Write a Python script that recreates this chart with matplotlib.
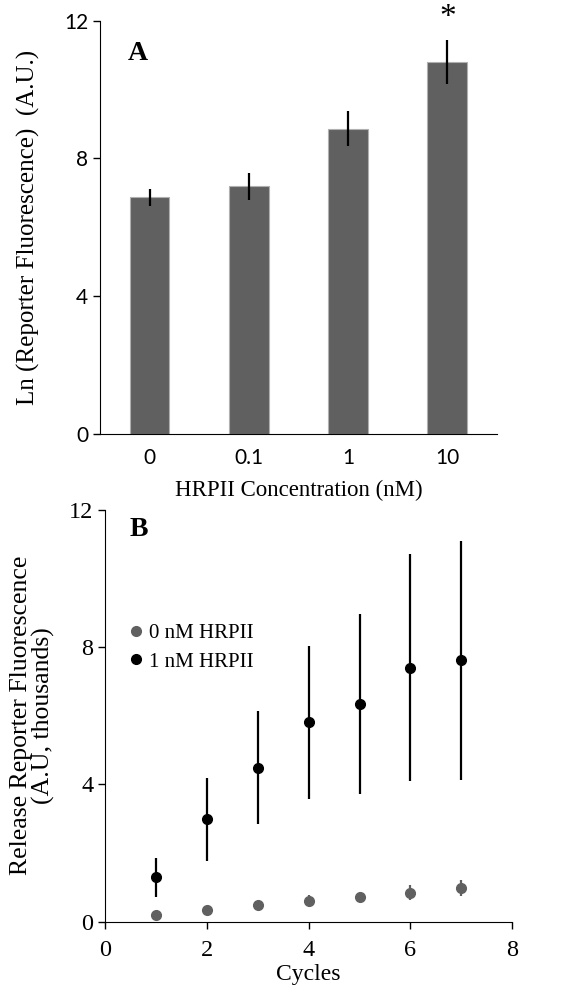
import numpy as np
import matplotlib.pyplot as plt
from matplotlib.lines import Line2D

# Panel A data
conc_labels = ['0', '0.1', '1', '10']
ln_fluor = [6.87, 7.19, 8.86, 10.80]
ln_err = [0.24, 0.39, 0.51, 0.63]

# Panel B data
cycles = [1, 2, 3, 4, 5, 6, 7]
release_0nm = [0.20, 0.33, 0.48, 0.61, 0.73, 0.85, 0.99]
release_0nm_err = [0.05, 0.06, 0.08, 0.16, 0.15, 0.22, 0.24]
release_1nm = [1.29, 2.98, 4.49, 5.81, 6.34, 7.40, 7.61]
release_1nm_err = [0.58, 1.20, 1.64, 2.23, 2.62, 3.31, 3.48]

serif = 'Liberation Serif'
sans = 'Lato'
grey = '#606060'

fig = plt.figure(figsize=(5.72, 9.94), dpi=100)

# ---- Panel A ----
axA = fig.add_axes([0.1748, 0.5634, 0.694, 0.4158])
xpos = np.arange(len(conc_labels))
axA.bar(xpos, ln_fluor, width=0.4, color=grey, edgecolor='#b0b0b0', linewidth=0.8)
axA.errorbar(xpos, ln_fluor, yerr=ln_err, fmt='none', ecolor='black', elinewidth=1.6, capsize=0)
axA.set_xlim(-0.5, 3.5)
axA.set_ylim(0, 12)
axA.set_yticks([0, 4, 8, 12])
axA.set_xticks(xpos)
axA.set_xticklabels(conc_labels)
for s in ['top', 'right']:
    axA.spines[s].set_visible(False)
axA.tick_params(axis='x', length=0, pad=10)
axA.tick_params(axis='y', direction='out', length=5, width=1)
for lab in axA.get_xticklabels() + axA.get_yticklabels():
    lab.set_fontfamily(sans)
    lab.set_fontsize(15)
axA.set_ylabel('Ln (Reporter Fluorescence)  (A.U.)', fontfamily=serif, fontsize=18, labelpad=17)
axA.set_xlabel('HRPII Concentration (nM)', fontfamily=serif, fontsize=16.5, labelpad=9)
axA.text(0.07, 0.92, 'A', transform=axA.transAxes, fontfamily=serif, fontsize=20,
         fontweight='bold', ha='left', va='center')
axA.text(3, 11.85, '*', fontfamily=serif, fontsize=24, ha='center', va='baseline', clip_on=False)

# ---- Panel B ----
axB = fig.add_axes([0.184, 0.0727, 0.7115, 0.4145])
axB.errorbar(cycles, release_0nm, yerr=release_0nm_err, fmt='o', color=grey,
             ecolor=grey, elinewidth=1.6, capsize=0, markersize=7)
axB.errorbar(cycles, release_1nm, yerr=release_1nm_err, fmt='o', color='black',
             ecolor='black', elinewidth=1.6, capsize=0, markersize=7)
axB.set_xlim(0, 8)
axB.set_ylim(0, 12)
axB.set_xticks([0, 2, 4, 6, 8])
axB.set_yticks([0, 4, 8, 12])
for s in ['top', 'right']:
    axB.spines[s].set_visible(False)
axB.tick_params(direction='out', length=5, width=1)
axB.tick_params(axis='x', pad=8)
for lab in axB.get_xticklabels() + axB.get_yticklabels():
    lab.set_fontfamily(serif)
    lab.set_fontsize(17.5)
axB.set_ylabel('Release Reporter Fluorescence\n(A.U, thousands)', fontfamily=serif,
               fontsize=18.5, labelpad=10, linespacing=1.0)
axB.set_xlabel('Cycles', fontfamily=serif, fontsize=17, labelpad=2)
axB.text(0.06, 0.951, 'B', transform=axB.transAxes, fontfamily=serif, fontsize=20,
         fontweight='bold', ha='left', va='center')
handles = [Line2D([], [], linestyle='none', marker='o', color=grey, markersize=7),
           Line2D([], [], linestyle='none', marker='o', color='black', markersize=7)]
axB.legend(handles, ['0 nM HRPII', '1 nM HRPII'], loc='upper left',
           bbox_to_anchor=(0.0, 0.77), frameon=False,
           prop={'family': serif, 'size': 15}, handletextpad=0.0,
           handlelength=1.2, labelspacing=0.45)

fig.savefig('out.png', dpi=100)
